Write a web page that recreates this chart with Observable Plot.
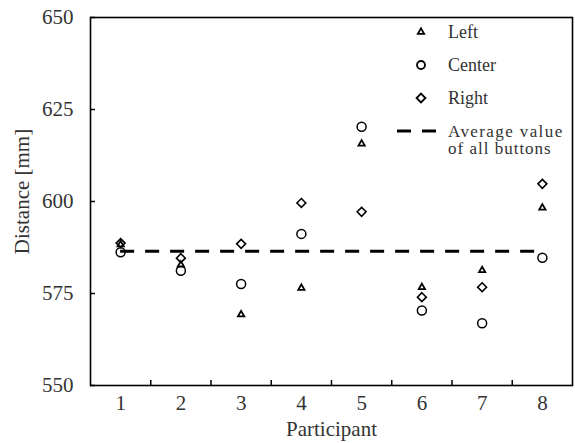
<!DOCTYPE html>
<html>
<head>
<meta charset="utf-8">
<script src="https://cdn.jsdelivr.net/npm/d3@7"></script>
<script src="https://cdn.jsdelivr.net/npm/@observablehq/plot@0.6"></script>
<style>
  html, body { margin: 0; padding: 0; background: #fff; }
  #chart svg { display: block; }
</style>
</head>
<body>
<div id="chart"></div>
<script>
const participants = [1, 2, 3, 4, 5, 6, 7, 8];
const leftValues   = [588.3, 582.8, 569.3, 576.5, 615.7, 576.7, 581.3, 598.3];
const centerValues = [586.2, 581.2, 577.6, 591.2, 620.3, 570.4, 566.9, 584.7];
const rightValues  = [588.7, 584.6, 588.5, 599.6, 597.2, 574.0, 576.7, 604.8];
const averageValue = 586.5;
const yTicks = [550, 575, 600, 625, 650];
const boundaryTicks = [1.5, 2.5, 3.5, 4.5, 5.5, 6.5, 7.5];
const seriesNames = ["Left", "Center", "Right"];
const averageLabel = ["Average value", "of all buttons"];

const rows = (vals) => participants.map((p, i) => ({participant: p, value: vals[i]}));
const font = "'Liberation Serif', 'Times New Roman', serif";
const textColor = "#333";

function legendMark(index, scales, values, dim) {
  const g = d3.create("svg:g")
    .attr("font-family", font)
    .attr("font-size", 18)
    .attr("text-anchor", "start")
    .attr("fill", textColor);
  const x0 = dim.marginLeft + 331, tx = dim.marginLeft + 358, y0 = dim.marginTop + 15, step = 33;
  const syms = [d3.symbolTriangle2, d3.symbolCircle, d3.symbolDiamond2];
  const rs = [3, 4, 4];
  seriesNames.forEach((name, i) => {
    const y = y0 + i * step;
    g.append("path")
      .attr("d", d3.symbol(syms[i], Math.PI * rs[i] * rs[i])())
      .attr("transform", `translate(${x0},${y})`)
      .attr("fill", "none").attr("stroke", "black").attr("stroke-width", 1.8);
    g.append("text").attr("x", tx).attr("y", y).attr("dy", "0.35em").text(name);
  });
  const ya = y0 + 3 * step;
  g.append("line")
    .attr("x1", x0 - 24).attr("x2", x0 + 15).attr("y1", ya).attr("y2", ya)
    .attr("stroke", "black").attr("stroke-width", 3).attr("stroke-dasharray", "14,11");
  averageLabel.forEach((t, i) => {
    g.append("text").attr("x", tx).attr("y", ya + i * 17.5).attr("dy", "0.35em")
      .attr("font-size", 17)
      .attr("letter-spacing", i === 0 ? "1.4px" : "1px").text(t);
  });
  return g.node();
}

const chart = Plot.plot({
  width: 575,
  height: 443,
  marginLeft: 90,
  marginRight: 3,
  marginTop: 17,
  marginBottom: 58,
  style: {fontFamily: font, fontSize: "21px", color: textColor, background: "white"},
  x: {domain: [0.5, 8.5]},
  y: {domain: [550, 650]},
  marks: [
    Plot.axisX(boundaryTicks, {tickSize: -5, tickFormat: () => "", label: null, stroke: "black", strokeWidth: 1.5}),
    Plot.axisX(participants, {tickSize: 0, tickPadding: 10, tickFormat: d => String(d), label: null, fill: textColor}),
    Plot.axisY(yTicks, {tickSize: -5, tickFormat: () => "", label: null, stroke: "black", strokeWidth: 1.5}),
    Plot.axisY(yTicks, {tickSize: 0, tickPadding: 17, label: null, fill: textColor}),
    Plot.text(["Participant"], {frameAnchor: "bottom", dy: 50, fill: textColor, fontSize: 21}),
    Plot.text(["Distance [mm]"], {frameAnchor: "left", textAnchor: "middle", dx: -68, dy: -10, rotate: -90, fill: textColor, fontSize: 21, letterSpacing: "1.4px"}),
    Plot.ruleY([{y: averageValue, x1: participants[0], x2: participants[participants.length - 1]}],
      {y: "y", x1: "x1", x2: "x2", stroke: "black", strokeWidth: 3, strokeDasharray: "14,11"}),
    Plot.dot(rows(centerValues), {x: "participant", y: "value", symbol: "circle", r: 4.5, stroke: "black", strokeWidth: 1.5, fill: "none"}),
    Plot.dot(rows(rightValues), {x: "participant", y: "value", symbol: "diamond2", r: 4, stroke: "black", strokeWidth: 1.6, fill: "none"}),
    Plot.dot(rows(leftValues), {x: "participant", y: "value", symbol: "triangle2", r: 3, stroke: "black", strokeWidth: 1.8, fill: "none"}),
    Plot.frame({stroke: "black", strokeWidth: 1.6}),
    legendMark
  ]
});
document.getElementById("chart").appendChild(chart);
</script>
</body>
</html>
